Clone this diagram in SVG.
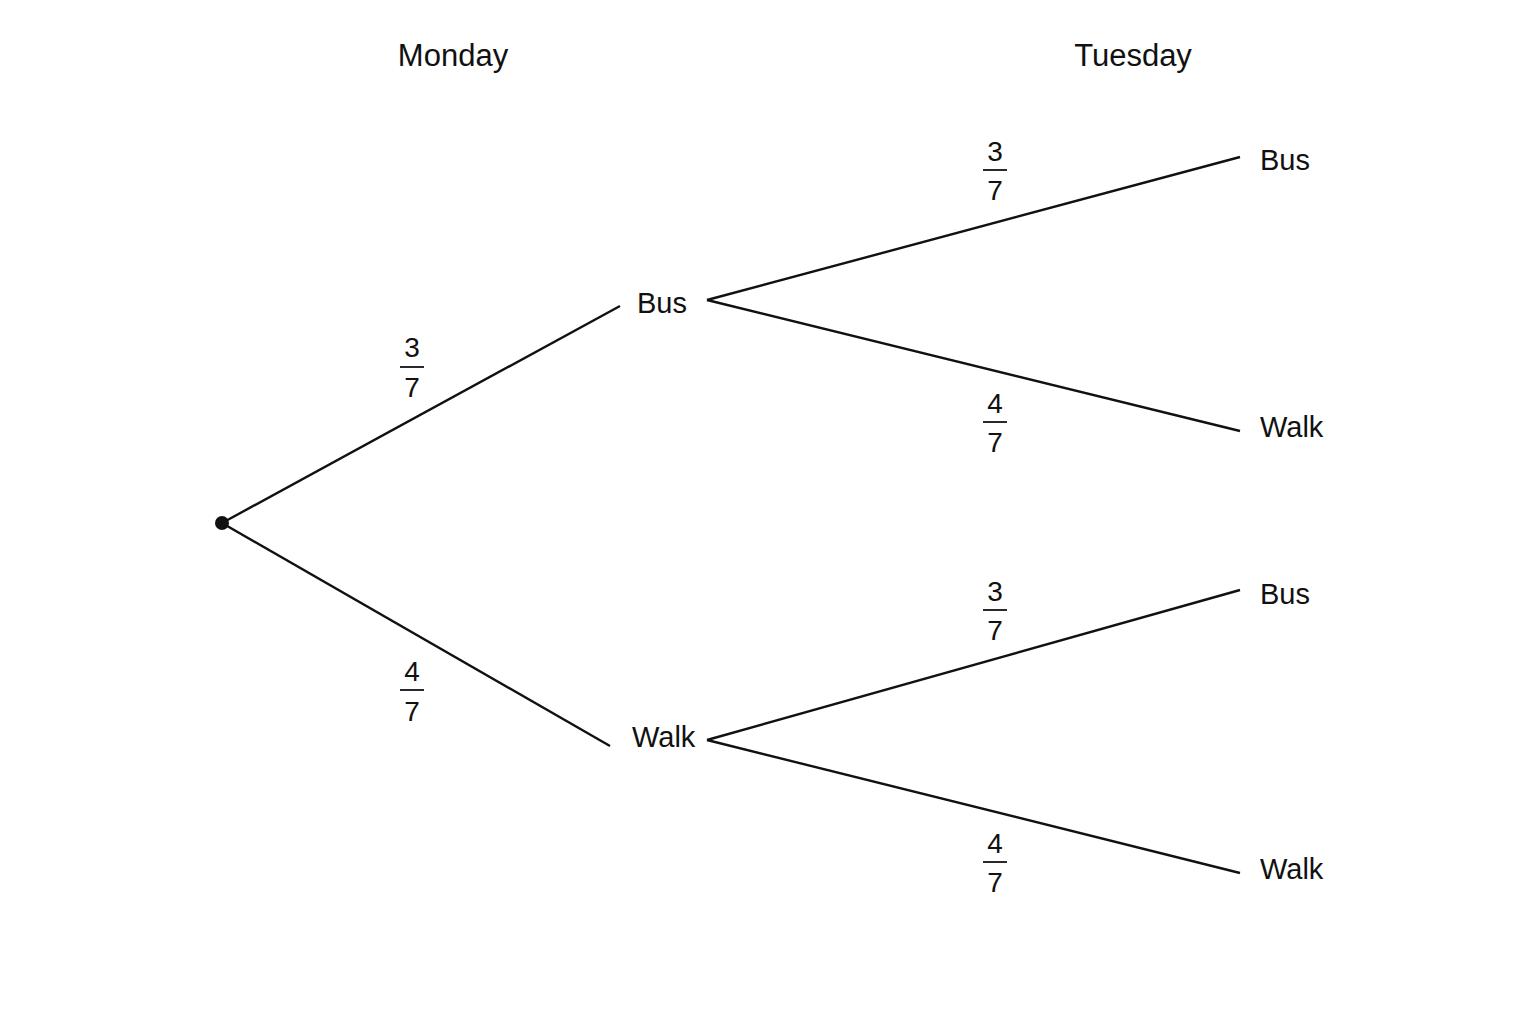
<svg xmlns="http://www.w3.org/2000/svg" width="1536" height="1024" viewBox="0 0 1536 1024">
<style>
text{font-family:"Liberation Sans",Arial,sans-serif;font-size:29px;fill:#111}
.h{font-size:31px;text-anchor:middle}
.f{text-anchor:middle;font-size:28px}
.e{stroke:#111;stroke-width:2.4;fill:none}
.b{stroke:#111;stroke-width:1.8}
</style>
<rect width="1536" height="1024" fill="#fff"/>
<text class="h" x="453" y="66">Monday</text>
<text class="h" x="1133" y="66">Tuesday</text>
<g id="connectors">
<line class="e" x1="222" y1="523" x2="620" y2="306"/>
<line class="e" x1="222" y1="523" x2="610" y2="746"/>
<line class="e" x1="707" y1="300" x2="1240" y2="157"/>
<line class="e" x1="707" y1="300" x2="1240" y2="431"/>
<line class="e" x1="707" y1="740" x2="1240" y2="590"/>
<line class="e" x1="707" y1="740" x2="1240" y2="873"/>
</g>
<g id="root"><circle cx="222" cy="523" r="7" fill="#111"/></g>
<g id="mon-bus"><text x="637" y="313">Bus</text></g>
<g id="mon-walk"><text x="632" y="747">Walk</text></g>
<g id="tue-bus1"><text x="1260" y="170">Bus</text></g>
<g id="tue-walk1"><text x="1260" y="437">Walk</text></g>
<g id="tue-bus2"><text x="1260" y="604">Bus</text></g>
<g id="tue-walk2"><text x="1260" y="879">Walk</text></g>
<g id="p1"><text class="f" x="412" y="357">3</text><line class="b" x1="400" y1="367" x2="424" y2="367"/><text class="f" x="412" y="397">7</text></g>
<g id="p2"><text class="f" x="412" y="681">4</text><line class="b" x1="400" y1="690" x2="424" y2="690"/><text class="f" x="412" y="721">7</text></g>
<g id="p3"><text class="f" x="995" y="161">3</text><line class="b" x1="983" y1="170" x2="1007" y2="170"/><text class="f" x="995" y="200">7</text></g>
<g id="p4"><text class="f" x="995" y="413">4</text><line class="b" x1="983" y1="422" x2="1007" y2="422"/><text class="f" x="995" y="452">7</text></g>
<g id="p5"><text class="f" x="995" y="601">3</text><line class="b" x1="983" y1="610" x2="1007" y2="610"/><text class="f" x="995" y="640">7</text></g>
<g id="p6"><text class="f" x="995" y="853">4</text><line class="b" x1="983" y1="862" x2="1007" y2="862"/><text class="f" x="995" y="892">7</text></g>
</svg>
